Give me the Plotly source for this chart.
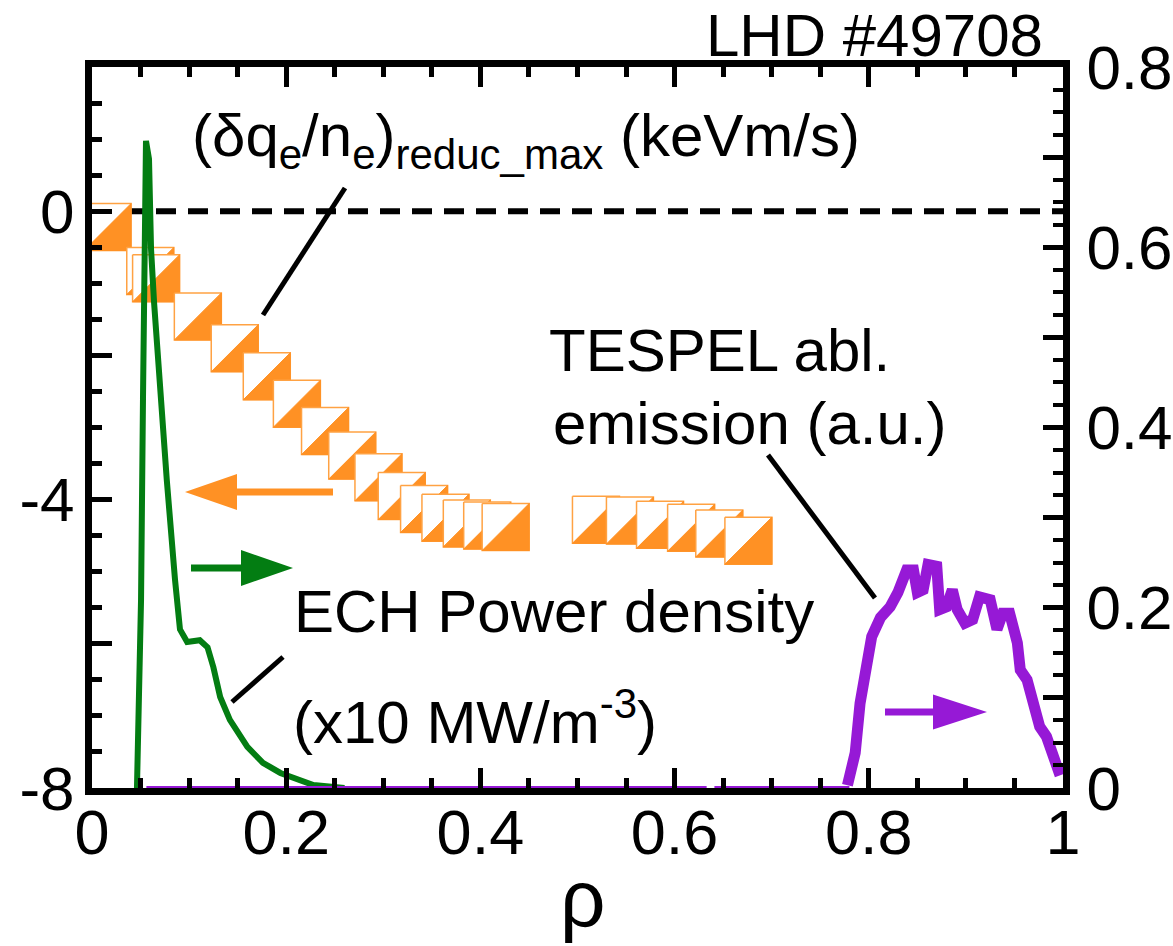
import plotly.graph_objects as go

# ---------------- data ----------------
# (delta q_e / n_e)_reduc_max  (left axis, keV m/s)
rho_sq = [0.016, 0.060, 0.066, 0.109, 0.147, 0.180, 0.211, 0.240, 0.268, 0.295,
          0.319, 0.342, 0.364, 0.386, 0.407, 0.426, 0.519, 0.554, 0.585, 0.617,
          0.646, 0.676]
dq_sq = [-0.22, -0.83, -0.93, -1.46, -1.90, -2.29, -2.67, -3.05, -3.39, -3.69,
         -3.95, -4.13, -4.25, -4.33, -4.36, -4.38, -4.28, -4.29, -4.35, -4.39,
         -4.47, -4.57]

# ECH power density (right axis, x10 MW/m^-3)
rho_ech = [0.0463, 0.0505, 0.0525, 0.0546, 0.0556, 0.0587, 0.0608, 0.0639, 0.069,
           0.077, 0.0855, 0.0906, 0.098, 0.111, 0.119, 0.125, 0.132, 0.142, 0.160,
           0.176, 0.194, 0.228, 0.26]
p_ech = [0.0, 0.209, 0.431, 0.653, 0.718, 0.698, 0.598, 0.539, 0.453,
         0.342, 0.231, 0.176, 0.162, 0.164, 0.156, 0.134, 0.101, 0.0756, 0.0456,
         0.028, 0.0167, 0.0033, 0.0]

# TESPEL ablation emission (right axis, a.u.)
rho_tes_base = [0.056, 0.633, None, 0.641, 0.78]
em_tes_base = [0.0, 0.0, None, 0.0, 0.0]
rho_tes = [0.778, 0.786, 0.791, 0.796, 0.803, 0.812, 0.822, 0.830, 0.839, 0.846,
           0.850, 0.856, 0.861, 0.870, 0.873, 0.880, 0.886, 0.891, 0.899, 0.907,
           0.914, 0.925, 0.932, 0.938, 0.945, 0.953, 0.956, 0.963, 0.969, 0.976,
           0.983, 0.988, 0.993, 0.997]
em_tes = [0.003, 0.039, 0.094, 0.131, 0.168, 0.189, 0.201, 0.217, 0.242, 0.242,
          0.217, 0.220, 0.248, 0.246, 0.198, 0.201, 0.220, 0.198, 0.183, 0.187,
          0.212, 0.209, 0.176, 0.194, 0.194, 0.161, 0.131, 0.120, 0.090, 0.068,
          0.057, 0.042, 0.023, 0.014]

x_tickvals = [0, 0.2, 0.4, 0.6, 0.8, 1.0]
x_ticktext = ["0", "0.2", "0.4", "0.6", "0.8", "1"]
yl_tickvals = [-8, -6, -4, -2, 0, 2]
yl_ticktext = ["-8", "", "-4", "", "0", ""]
yr_tickvals = [0, 0.1, 0.2, 0.3, 0.4, 0.5, 0.6, 0.7, 0.8]
yr_ticktext = ["0", "", "0.2", "", "0.4", "", "0.6", "", "0.8"]

# ---------------- layout constants ----------------
W, H = 1173, 946
ML, MR, MT, MB = 92, 110, 67, 158
YL = [-8, 2]
YR = [0, 0.8]
PX_X = (W - ML - MR) / 1.0
PX_Y = (H - MT - MB) / (YL[1] - YL[0])

FONT = "Liberation Sans, Arial, sans-serif"
ORANGE = "#FF9124"
ORANGE_EDGE = "#FFA243"
GREEN = "#037D12"
PURPLE = "#9619D6"


def dx(px):
    return (px - ML) / PX_X


def dy(py):
    return YL[1] - (py - MT) / PX_Y


fig = go.Figure()

# zero reference line
fig.add_trace(go.Scatter(x=[0, 1], y=[0, 0], mode="lines", yaxis="y",
                         line=dict(color="black", width=6, dash="20px,12px"),
                         hoverinfo="skip"))

# split squares: white square with orange outline + orange lower-right half
HALF = 23.5  # half side of the symbol, px
hx, hy = HALF / PX_X, HALF / PX_Y
for xi, yi in zip(rho_sq, dq_sq):
    fig.add_trace(go.Scatter(
        x=[xi - hx, xi + hx, xi + hx, xi - hx, xi - hx],
        y=[yi + hy, yi + hy, yi - hy, yi - hy, yi + hy],
        mode="lines", fill="toself", fillcolor="white", yaxis="y", cliponaxis=False,
        line=dict(color=ORANGE_EDGE, width=1.5), hoverinfo="skip"))
    fig.add_trace(go.Scatter(
        x=[xi - hx, xi + hx, xi + hx, xi - hx],
        y=[yi - hy, yi + hy, yi - hy, yi - hy],
        mode="lines", fill="toself", fillcolor=ORANGE, yaxis="y", cliponaxis=False,
        line=dict(color=ORANGE, width=1), hoverinfo="skip"))

# ECH power density
fig.add_trace(go.Scatter(x=rho_ech, y=p_ech, mode="lines", yaxis="y2", cliponaxis=False,
                         line=dict(color=GREEN, width=6)))
# TESPEL emission
fig.add_trace(go.Scatter(x=rho_tes_base, y=em_tes_base, mode="lines", yaxis="y2",
                         cliponaxis=False, line=dict(color=PURPLE, width=4)))
fig.add_trace(go.Scatter(x=rho_tes, y=em_tes, mode="lines", yaxis="y2", cliponaxis=False,
                         line=dict(color=PURPLE, width=11)))

# ---------------- arrows & leader lines ----------------
shapes = []


def arrow(x_tail, x_tip, y, color, head_len=52, head_half=18, shaft_half=3.5):
    sgn = 1 if x_tip > x_tail else -1
    xb = x_tip - sgn * head_len / PX_X
    ah = head_half / PX_Y
    sh = shaft_half / PX_Y
    path = (f"M{x_tail},{y - sh} L{xb},{y - sh} L{xb},{y - ah} L{x_tip},{y} "
            f"L{xb},{y + ah} L{xb},{y + sh} L{x_tail},{y + sh} Z")
    shapes.append(dict(type="path", path=path, xref="x", yref="y",
                       fillcolor=color, line=dict(width=0), layer="above"))


arrow(dx(333), dx(185), dy(492), ORANGE)
arrow(dx(191), dx(293), dy(568), GREEN)
arrow(dx(885), dx(987), dy(712), PURPLE, head_len=54, head_half=17.5)

for (p0, p1) in [((345, 188), (263, 315)), ((283, 657), (232, 702)), ((768, 455), (875, 598))]:
    shapes.append(dict(type="line", xref="x", yref="y", x0=dx(p0[0]), y0=dy(p0[1]),
                       x1=dx(p1[0]), y1=dy(p1[1]), line=dict(color="black", width=5)))

# ---------------- text ----------------
annots = []


def text(s, px, py, size=60, xanchor="left"):
    annots.append(dict(text=s, x=dx(px), y=dy(py), xref="x", yref="y", showarrow=False,
                       xanchor=xanchor, yanchor="middle",
                       font=dict(family=FONT, size=size, color="black")))


text("(δq<sub>e</sub>/n<sub>e</sub>)<sub>reduc_max</sub> (keVm/s)", 190, 140)
text("TESPEL abl.", 547, 350)
text("emission (a.u.)", 551, 423)
text("ECH Power density", 292, 611)
text("(x10 MW/m<sup>-3</sup>)", 291, 718)
annots.append(dict(text="LHD #49708", x=dx(1045), y=(H - MB - 35) / (H - MT - MB),
                   xref="paper", yref="paper", showarrow=False, xanchor="right",
                   yanchor="middle", font=dict(family=FONT, size=60, color="black")))
annots.append(dict(text="ρ", x=dx(583), y=-(898 - (H - MB)) / (H - MT - MB),
                   xref="paper", yref="paper", showarrow=False,
                   xanchor="center", yanchor="middle",
                   font=dict(family=FONT, size=80, color="black")))

axis_common = dict(showline=True, linewidth=7, linecolor="black", ticks="inside",
                   ticklen=20, tickwidth=5, tickcolor="black", showgrid=False,
                   zeroline=False, tickmode="array", automargin=False)

fig.update_layout(
    width=W, height=H, margin=dict(l=ML, r=MR, t=MT, b=MB, autoexpand=False),
    plot_bgcolor="white", paper_bgcolor="white", showlegend=False,
    font=dict(family=FONT, color="black"),
    xaxis=dict(range=[0, 1], mirror="ticks", tickvals=x_tickvals, ticktext=x_ticktext,
               tickfont=dict(size=63), ticklabelstandoff=-17,
               minor=dict(ticks="inside", ticklen=10, tickwidth=5, tickcolor="black",
                          tickmode="linear", tick0=0, dtick=0.05, showgrid=False),
               **axis_common),
    yaxis=dict(range=YL, tickvals=yl_tickvals, ticktext=yl_ticktext,
               tickfont=dict(size=62), ticklabelstandoff=-2,
               minor=dict(ticks="inside", ticklen=10, tickwidth=5, tickcolor="black",
                          tickmode="linear", tick0=0, dtick=0.5, showgrid=False),
               **axis_common),
    yaxis2=dict(range=YR, overlaying="y", side="right", anchor="x",
                tickvals=yr_tickvals, ticktext=yr_ticktext,
                tickfont=dict(size=62), ticklabelstandoff=4,
                minor=dict(ticks="inside", ticklen=10, tickwidth=4, tickcolor="black",
                           tickmode="linear", tick0=0, dtick=0.025, showgrid=False),
                **axis_common),
    shapes=shapes, annotations=annots,
)

fig.write_html("out.html")
